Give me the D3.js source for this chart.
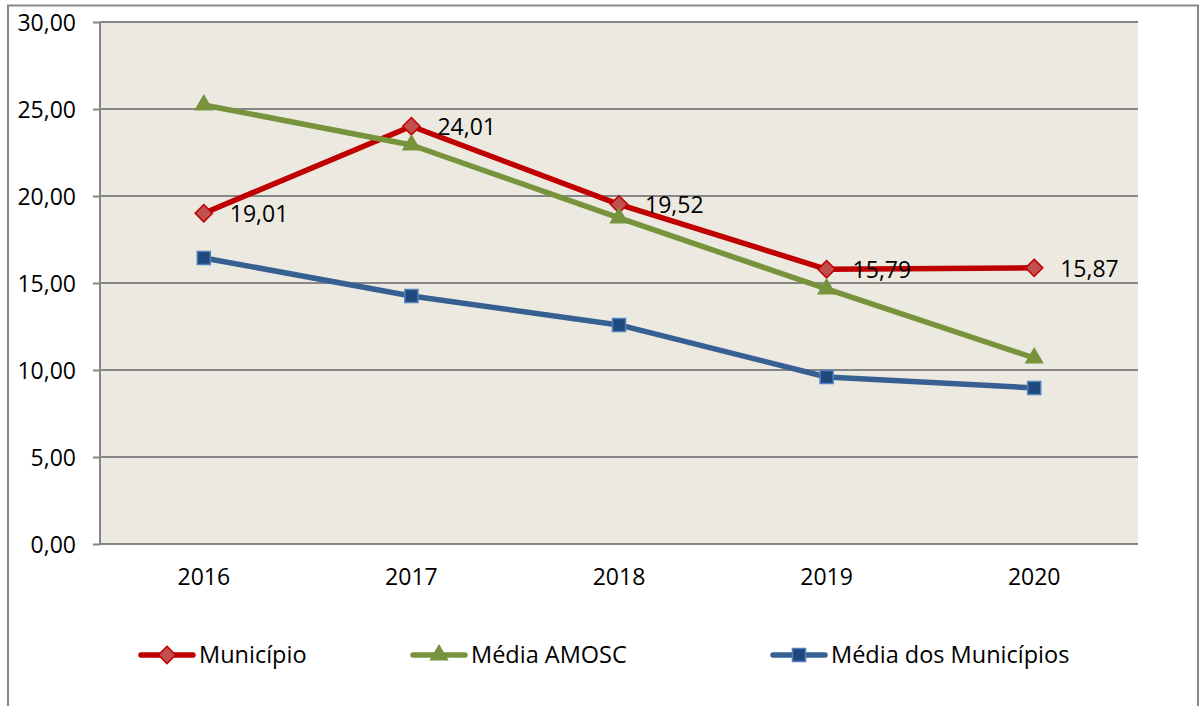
<html>
<head>
<meta charset="UTF-8">
<title>Município x Média AMOSC x Média dos Municípios</title>
<script src="https://d3js.org/d3.v7.min.js"></script>
<style>
    body { margin: 0; background: #fff; }
    svg text { font-family: "Open Sans", sans-serif; fill: #000; }
    .axis text { font-size: 23px; }
    .axis path, .axis line { stroke: #868686; stroke-width: 2px; }
    .grid line { stroke: #868686; stroke-width: 2px; }
    .lbl { font-size: 23px; }
    .legend text { font-size: 23.5px; }
</style>
</head>
<body>
<svg width="1201" height="706"></svg>
<script>
    var anos = ['2016', '2017', '2018', '2019', '2020'];
    var municipio = [19.01, 24.01, 19.52, 15.79, 15.87];
    var mediaAmosc = [25.23, 22.93, 18.74, 14.66, 10.69];
    var mediaMunicipios = [16.44, 14.25, 12.59, 9.60, 8.97];
    var yTicks = [0, 5, 10, 15, 20, 25, 30];

    var series = [
        { nome: 'Município', valores: municipio, cor: '#C00000', fill: '#C0504D', stroke: '#C00000', sym: d3.symbolDiamond2, size: 190, labels: true },
        { nome: 'Média AMOSC', valores: mediaAmosc, cor: '#77933C', fill: '#77933C', stroke: '#77933C', sym: d3.symbolTriangle, size: 120, labels: false },
        { nome: 'Média dos Municípios', valores: mediaMunicipios, cor: '#376092', fill: '#1F497D', stroke: '#4F81BD', sym: d3.symbolSquare, size: 170, labels: false }
    ];

    var svg = d3.select('svg'),
        margin = { top: 22, right: 63, bottom: 162, left: 100 },
        width = +svg.attr('width') - margin.left - margin.right,
        height = +svg.attr('height') - margin.top - margin.bottom;

    var fmt = function (v) { return d3.format('.2f')(v).replace('.', ','); };

    // moldura externa
    svg.append('rect')
        .attr('x', 8).attr('y', 5.5).attr('width', 1190).attr('height', 720)
        .attr('fill', 'none').attr('stroke', '#888').attr('stroke-width', 2);

    var g = svg.append('g').attr('transform', 'translate(' + margin.left + ',' + margin.top + ')');

    var x = d3.scaleBand().domain(anos).range([0, width]);
    var y = d3.scaleLinear().domain([0, 30]).range([height, 0]);
    var cx = function (d, i) { return x(anos[i]) + x.bandwidth() / 2; };

    g.append('rect').attr('width', width).attr('height', height).attr('fill', '#ECEAE0');

    g.append('g').attr('class', 'grid')
        .selectAll('line').data(yTicks).enter().append('line')
        .attr('x1', 0).attr('x2', width)
        .attr('y1', function (d) { return y(d); }).attr('y2', function (d) { return y(d); });

    g.append('g').attr('class', 'axis axis-y')
        .call(d3.axisLeft(y).tickValues(yTicks).tickSize(7).tickPadding(17).tickFormat(fmt))
        .call(function (s) { s.select('.domain').attr('d', 'M0,0V' + height); })
        .selectAll('text').attr('dy', '0.35em');

    g.append('g').attr('class', 'axis axis-x')
        .attr('transform', 'translate(0,' + height + ')')
        .call(d3.axisBottom(x).tickSize(0).tickPadding(25))
        .call(function (s) { s.select('.domain').remove(); });

    var line = d3.line().x(cx).y(function (d) { return y(d); });

    series.forEach(function (s) {
        g.append('path').datum(s.valores)
            .attr('d', line).attr('fill', 'none')
            .attr('stroke', s.cor).attr('stroke-width', 5.5).attr('stroke-linejoin', 'round');
    });

    series.forEach(function (s) {
        g.append('g').selectAll('path').data(s.valores).enter().append('path')
            .attr('transform', function (d, i) { return 'translate(' + cx(d, i) + ',' + y(d) + ')'; })
            .attr('d', d3.symbol().type(s.sym).size(s.size))
            .attr('fill', s.fill).attr('stroke', s.stroke).attr('stroke-width', 1.5);
        if (s.labels) {
            g.append('g').selectAll('text').data(s.valores).enter().append('text')
                .attr('class', 'lbl')
                .attr('x', function (d, i) { return cx(d, i) + 26; })
                .attr('y', function (d) { return y(d) + 1; })
                .attr('dy', '0.35em')
                .text(fmt);
        }
    });

    // legenda
    var legX = [141, 413, 773];
    var leg = svg.append('g').attr('class', 'legend').attr('transform', 'translate(0,655)');
    series.forEach(function (s, i) {
        var it = leg.append('g').attr('transform', 'translate(' + legX[i] + ',0)');
        it.append('line').attr('x1', 0).attr('x2', 52)
            .attr('stroke', s.cor).attr('stroke-width', 5.5).attr('stroke-linecap', 'round');
        it.append('path').attr('transform', 'translate(26,0)')
            .attr('d', d3.symbol().type(s.sym).size(s.size))
            .attr('fill', s.fill).attr('stroke', s.stroke).attr('stroke-width', 1.5);
        it.append('text').attr('x', 58).attr('dy', '0.35em').text(s.nome);
    });
</script>
</body>
</html>
